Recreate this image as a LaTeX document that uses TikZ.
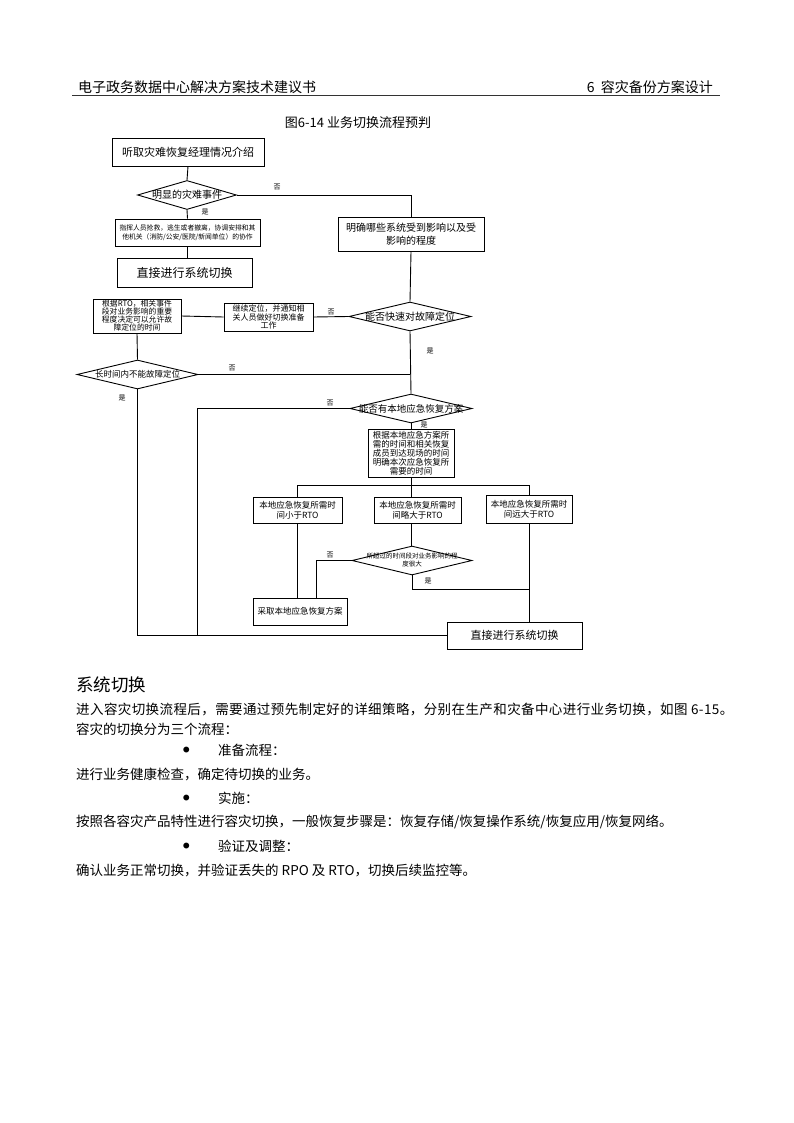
\documentclass[tikz,border=0pt]{standalone}
\usepackage{fontspec}
\setmainfont{Noto Sans CJK SC}
\usetikzlibrary{shapes.geometric}
\newcommand{\fsz}[2]{\fontsize{#1pt}{#2pt}\selectfont}

\begin{document}
\begin{tikzpicture}[x=1pt, y=-1pt,
	flowbox/.style={rectangle, draw=black, line width=0.9pt, inner sep=0pt, align=center},
	flowdia/.style={diamond, draw=black, line width=0.9pt, inner sep=0pt},
	flowline/.style={line width=0.9pt, draw=black},
	yesno/.style={font=\fsz{7}{8}, inner sep=0pt},
	bodytext/.style={anchor=west, inner sep=0pt, font=\fsz{13.5}{15}},
	bulletmark/.style={anchor=west, inner sep=0pt, font=\fsz{6.5}{8}}]
	\fill[white] (0,0) rectangle (794,1123);
	\useasboundingbox (0,0) rectangle (794,1123);

	% page header
	\node[anchor=west, inner sep=0pt, font=\fsz{14}{16}] (HEADL) at (78,87) {电子政务数据中心解决方案技术建议书};
	\node[anchor=east, inner sep=0pt, font=\fsz{14}{16}] (HEADR) at (713,87) {6\ \ 容灾备份方案设计};
	\draw[line width=0.8pt, draw=black!80] (72,95) -- (720,95);
	\node[font=\fsz{13}{15}] (TITLE) at (358,123) {图6-14 业务切换流程预判};

	% boxes
	\node[flowbox, minimum width=152pt, minimum height=28pt, font=\fsz{11}{13}] (INTRO) at (188,152) {听取灾难恢复经理情况介绍};
	\node[flowdia, minimum width=99pt, minimum height=29pt, label={[font=\fsz{10}{12}]center:明显的灾难事件}] (EVT) at (187,195) {};
	\node[flowbox, minimum width=145pt, minimum height=27pt, font=\fsz{6.8}{9}] (RESCUE) at (187.5,232.5) {指挥人员抢救，逃生或者撤离，协调安排和其\\他机关（消防/公安/医院/新闻单位）的协作};
	\node[flowbox, minimum width=135pt, minimum height=29pt, font=\fsz{12}{14}] (SWA) at (184.5,272.5) {直接进行系统切换};
	\node[flowbox, minimum width=146pt, minimum height=34pt, font=\fsz{10}{13}] (AFFECT) at (411,234) {明确哪些系统受到影响以及受\\影响的程度};
	\node[flowdia, minimum width=122pt, minimum height=29pt, label={[font=\fsz{10}{12}]center:能否快速对故障定位}] (LOC) at (410,316.5) {};
	\node[flowbox, minimum width=89pt, minimum height=28pt, font=\fsz{8}{8.8}] (NOTIFY) at (268.5,317) {继续定位，并通知相\\关人员做好切换准备\\工作};
	\node[flowbox, minimum width=88pt, minimum height=34pt, font=\fsz{7.8}{8}] (RTOTIME) at (137,316) {根据RTO，相关事件\\段对业务影响的重要\\程度决定可以允许故\\障定位的时间};
	\node[flowdia, minimum width=121pt, minimum height=29pt, label={[font=\fsz{8.5}{10}]center:长时间内不能故障定位}] (LONG) at (137.5,374.5) {};
	\node[flowdia, minimum width=122pt, minimum height=29pt, label={[font=\fsz{9.5}{11}]center:能否有本地应急恢复方案}] (LOCAL) at (411,408.5) {};
	\node[flowbox, minimum width=86pt, minimum height=48pt, font=\fsz{8.5}{9}] (PLANTIME) at (411,453) {根据本地应急方案所\\需的时间和相关恢复\\成员到达现场的时间\\明确本次应急恢复所\\需要的时间};
	\node[flowbox, minimum width=89pt, minimum height=26pt, font=\fsz{8.5}{10.5}] (LESS) at (297.5,510) {本地应急恢复所需时\\间小于RTO};
	\node[flowbox, minimum width=87pt, minimum height=26pt, font=\fsz{8.5}{10.5}] (SLIGHT) at (417.5,510) {本地应急恢复所需时\\间略大于RTO};
	\node[flowbox, minimum width=86pt, minimum height=28pt, font=\fsz{8.5}{10.5}] (FAR) at (529,509) {本地应急恢复所需时\\间远大于RTO};
	\node[flowdia, minimum width=120pt, minimum height=29pt, label={[font=\fsz{6.5}{8}, align=center]center:{所超过的时间段对业务影响的程\\度很大}}] (IMPACT) at (412,560.5) {};
	\node[flowbox, minimum width=94pt, minimum height=27pt, font=\fsz{8.5}{10}] (ADOPT) at (300,611.5) {采取本地应急恢复方案};
	\node[flowbox, minimum width=135pt, minimum height=27pt, font=\fsz{11}{13}] (SWB) at (514.5,635.5) {直接进行系统切换};

	\coordinate (SPLIT) at (411,485);
	\coordinate (MERGE) at (197,636);

	% connectors
	\draw[flowline] (INTRO.south) -- (EVT.north);
	\draw[flowline] (EVT.east) -- (AFFECT.north |- EVT.east) -- (AFFECT.north);
	\draw[flowline] (EVT.south) -- (RESCUE.north);
	\draw[flowline] (RESCUE.south) -- (RESCUE.south |- SWA.north);
	\draw[flowline] (AFFECT.south) -- (LOC.north);
	\draw[flowline] (LOC.west) -- (NOTIFY.east);
	\draw[flowline] (NOTIFY.west) -- (RTOTIME.east);
	\draw[flowline] (RTOTIME.south) -- (LONG.north);
	\draw[flowline] (LONG.east) -- (LOC.south |- LONG.east);
	\draw[flowline] (LOC.south) -- (LOCAL.north);
	\draw[flowline] (LOCAL.west) -- (MERGE |- LOCAL.west) -- (MERGE);
	\draw[flowline] (LONG.south) -- (LONG.south |- SWB.west) -- (SWB.west);
	\draw[flowline] (LOCAL.south) -- (PLANTIME.north);
	\draw[flowline] (PLANTIME.south) -- (SPLIT);
	\draw[flowline] (LESS.north) |- (FAR.north |- SPLIT) -- (FAR.north);
	\draw[flowline] (SPLIT) -- (SPLIT |- SLIGHT.north);
	\draw[flowline] (LESS.south) -- (LESS.south |- ADOPT.north);
	\draw[flowline] (SPLIT |- SLIGHT.south) -- (SPLIT |- IMPACT.north);
	\draw[flowline] (IMPACT.west) -- (316,560.5) -- (316,598);
	\draw[flowline] (IMPACT.south) -- (IMPACT.south |- 0,589) -- (FAR.south |- 0,589);
	\draw[flowline] (FAR.south) -- (FAR.south |- SWB.north);

	% yes / no labels
	\node[yesno] (N1) at (277,187) {否};
	\node[yesno] (Y1) at (205,212) {是};
	\node[yesno] (N2) at (331,312) {否};
	\node[yesno] (Y2) at (430,351) {是};
	\node[yesno] (N3) at (232,368) {否};
	\node[yesno] (Y3) at (122,398) {是};
	\node[yesno] (N4) at (330,403) {否};
	\node[yesno] (Y4) at (424,425) {是};
	\node[yesno] (N5) at (330,555) {否};
	\node[yesno] (Y5) at (428,581) {是};

	% text below the chart
	\node[anchor=west, inner sep=0pt, font=\fsz{17.5}{20}] (SEC) at (76,685) {系统切换};
	\node[bodytext] (P1) at (76,709) {\addfontfeature{LetterSpace=3}进入容灾切换流程后，需要通过预先制定好的详细策略，分别在生产和灾备中心进行业务切换，如图 6-15。};
	\node[bodytext] (P2) at (76,729) {容灾的切换分为三个流程：};
	\node[bulletmark] (B1) at (183,750) {●};
	\node[bodytext] (B1T) at (218,750) {准备流程：};
	\node[bodytext] (P3) at (76,774) {进行业务健康检查，确定待切换的业务。};
	\node[bulletmark] (B2) at (183,798) {●};
	\node[bodytext] (B2T) at (218,798) {实施：};
	\node[bodytext] (P4) at (76,822) {按照各容灾产品特性进行容灾切换，一般恢复步骤是：恢复存储/恢复操作系统/恢复应用/恢复网络。};
	\node[bulletmark] (B3) at (183,846) {●};
	\node[bodytext] (B3T) at (218,846) {验证及调整：};
	\node[bodytext] (P5) at (76,870) {确认业务正常切换，并验证丢失的 RPO 及 RTO，切换后续监控等。};
\end{tikzpicture}
\end{document}
